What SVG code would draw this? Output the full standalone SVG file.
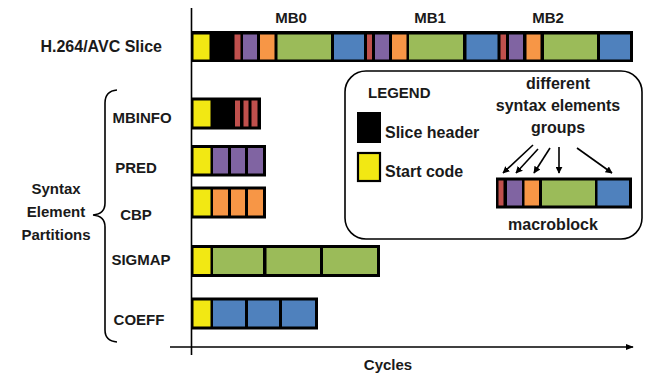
<svg xmlns="http://www.w3.org/2000/svg" width="648" height="377" viewBox="0 0 648 377">
<style>
text{font-family:"Liberation Sans",Arial,sans-serif;font-weight:bold;fill:#1a1a1a}
.lbl{font-size:15px;text-anchor:middle}
.l16{font-size:16px}
.c{text-anchor:middle}
.bg{fill:#000;stroke:#000;stroke-width:2}
.y{fill:#f2e813}.r{fill:#c0504d}.p{fill:#8064a2}.o{fill:#f79646}.g{fill:#9bbb59}.b{fill:#4f81bd}
.ax{stroke:#000;stroke-width:1.6;fill:none}
.ar{stroke:#000;stroke-width:1.6;fill:none;marker-end:url(#ah)}
</style>
<defs>
<marker id="ah" viewBox="0 0 10 10" refX="9" refY="5" markerWidth="7" markerHeight="7" markerUnits="userSpaceOnUse" orient="auto"><path d="M0,0 L10,5 L0,10 z" fill="#000"/></marker>
<marker id="axh" viewBox="0 0 10 10" refX="9" refY="5" markerWidth="8" markerHeight="8" markerUnits="userSpaceOnUse" orient="auto"><path d="M0,1 L10,5 L0,9 z" fill="#000"/></marker>
</defs>

<g id="axes">
<line class="ax" x1="191.5" y1="8" x2="191.5" y2="355"/>
<line class="ax" x1="170" y1="347" x2="633" y2="347" marker-end="url(#axh)"/>
<text x="388" y="370" class="lbl">Cycles</text>
</g>

<g id="slice">
<text x="162" y="52" class="l16" text-anchor="end">H.264/AVC Slice</text>
<text x="291" y="23" class="lbl">MB0</text>
<text x="430" y="23" class="lbl">MB1</text>
<text x="548" y="23" class="lbl">MB2</text>
<rect class="bg" x="192" y="32" width="440" height="29"/>
<rect class="y" x="193.5" y="34.5" width="16" height="25"/>
<rect class="r" x="234.5" y="34.5" width="6" height="25"/>
<rect class="p" x="243" y="34.5" width="14" height="25"/>
<rect class="o" x="260" y="34.5" width="14.5" height="25"/>
<rect class="g" x="277.5" y="34.5" width="53.5" height="25"/>
<rect class="b" x="334" y="34.5" width="30" height="25"/>
<rect class="r" x="367" y="34.5" width="5" height="25"/>
<rect class="p" x="375" y="34.5" width="14" height="25"/>
<rect class="o" x="392" y="34.5" width="14.5" height="25"/>
<rect class="g" x="409" y="34.5" width="54" height="25"/>
<rect class="b" x="466.5" y="34.5" width="31" height="25"/>
<rect class="r" x="500.5" y="34.5" width="5.5" height="25"/>
<rect class="p" x="509" y="34.5" width="14" height="25"/>
<rect class="o" x="526.5" y="34.5" width="14" height="25"/>
<rect class="g" x="544" y="34.5" width="53" height="25"/>
<rect class="b" x="600" y="34.5" width="30" height="25"/>
</g>

<g id="mbinfo">
<text x="142" y="123" class="lbl">MBINFO</text>
<rect class="bg" x="192" y="98.5" width="68" height="30"/>
<rect class="y" x="193.5" y="100.5" width="17" height="26"/>
<rect class="r" x="235" y="100.5" width="5" height="26"/>
<rect class="r" x="243.5" y="100.5" width="5" height="26"/>
<rect class="r" x="251.5" y="100.5" width="6" height="26"/>
</g>

<g id="pred">
<text x="136" y="173" class="lbl">PRED</text>
<rect class="bg" x="192" y="146" width="73" height="29.5"/>
<rect class="y" x="193.5" y="148" width="17" height="25.5"/>
<rect class="p" x="213" y="148" width="15" height="25.5"/>
<rect class="p" x="231" y="148" width="14" height="25.5"/>
<rect class="p" x="248" y="148" width="15" height="25.5"/>
</g>

<g id="cbp">
<text x="136" y="220" class="lbl">CBP</text>
<rect class="bg" x="192" y="187.5" width="73" height="30"/>
<rect class="y" x="193.5" y="189.5" width="17" height="26"/>
<rect class="o" x="213" y="189.5" width="15" height="26"/>
<rect class="o" x="231" y="189.5" width="14" height="26"/>
<rect class="o" x="248" y="189.5" width="15" height="26"/>
</g>

<g id="sigmap">
<text x="141" y="265" class="lbl">SIGMAP</text>
<rect class="bg" x="192" y="246" width="187" height="30"/>
<rect class="y" x="193.5" y="248" width="17" height="26"/>
<rect class="g" x="213" y="248" width="50" height="26"/>
<rect class="g" x="266.5" y="248" width="53.5" height="26"/>
<rect class="g" x="323" y="248" width="54" height="26"/>
</g>

<g id="coeff">
<text x="139" y="325" class="lbl">COEFF</text>
<rect class="bg" x="192" y="298.5" width="125" height="30"/>
<rect class="y" x="193.5" y="300.5" width="17" height="26"/>
<rect class="b" x="213" y="300.5" width="32" height="26"/>
<rect class="b" x="248" y="300.5" width="31" height="26"/>
<rect class="b" x="282" y="300.5" width="33" height="26"/>
</g>

<g id="partitions">
<path class="ax" d="M117,90 Q105,91 105,103 L105,203 Q105,214 93,215 Q105,216 105,227 L105,330 Q105,341 117,342"/>
<text x="56" y="194" class="lbl">Syntax</text>
<text x="56" y="217" class="lbl">Element</text>
<text x="56" y="240" class="lbl">Partitions</text>
</g>

<g id="legend">
<rect x="345" y="71" width="297" height="168" rx="21" fill="#fff" stroke="#000" stroke-width="1.6"/>
<text x="368" y="98" style="font-size:15px">LEGEND</text>
<rect x="358" y="113" width="22" height="29" fill="#000" stroke="#000" stroke-width="2"/>
<text x="385" y="138" class="l16">Slice header</text>
<rect x="358" y="153" width="22" height="28" fill="#f2e813" stroke="#000" stroke-width="2.2"/>
<text x="385" y="177" class="l16">Start code</text>
<text x="558" y="89" class="l16 c">different</text>
<text x="558" y="111" class="l16 c">syntax elements</text>
<text x="558" y="133" class="l16 c">groups</text>
<rect class="bg" x="497" y="178.5" width="134" height="29"/>
<rect class="r" x="498.5" y="180.5" width="5" height="25"/>
<rect class="p" x="507" y="180.5" width="15" height="25"/>
<rect class="o" x="524.5" y="180.5" width="14.5" height="25"/>
<rect class="g" x="542" y="180.5" width="53" height="25"/>
<rect class="b" x="597.5" y="180.5" width="31.5" height="25"/>
<text x="553" y="230" class="l16 c">macroblock</text>
</g>

<g id="connectors">
<line class="ar" x1="533" y1="145" x2="503" y2="173"/>
<line class="ar" x1="538" y1="149" x2="516" y2="173"/>
<line class="ar" x1="550" y1="148" x2="534" y2="173"/>
<line class="ar" x1="559" y1="147" x2="559" y2="173"/>
<line class="ar" x1="577" y1="148" x2="612" y2="173"/>
</g>
</svg>
